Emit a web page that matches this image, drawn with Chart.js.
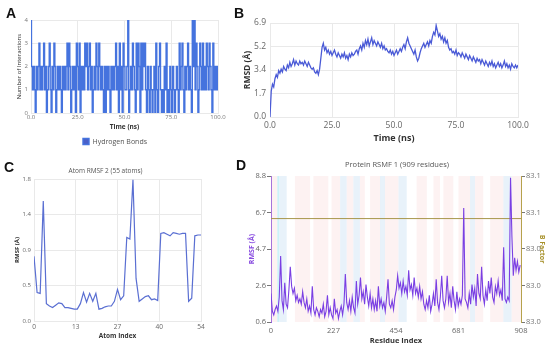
<!DOCTYPE html>
<html><head><meta charset="utf-8">
<script src="https://cdn.jsdelivr.net/npm/chart.js"></script>
<style>
html,body{margin:0;padding:0;background:#fff;}
#wrap{position:relative;width:550px;height:347px;overflow:hidden;background:#fff;}
canvas{position:absolute;}
.lbl{position:absolute;font-family:'Liberation Sans',Arial,sans-serif;font-weight:bold;font-size:14px;line-height:14px;color:#111;}
</style></head><body>
<div id="wrap">
<canvas id="cA" width="250" height="155" style="left:0;top:0"></canvas>
<canvas id="cB" width="320" height="147" style="left:230px;top:0"></canvas>
<canvas id="cC" width="218" height="178" style="left:0;top:163px"></canvas>
<canvas id="cD" width="306" height="190" style="left:244px;top:157px"></canvas>
<div class="lbl" style="left:6px;top:6px">A</div>
<div class="lbl" style="left:234px;top:6px">B</div>
<div class="lbl" style="left:4px;top:160px">C</div>
<div class="lbl" style="left:236px;top:158px">D</div>
</div>
<script>
// ---------- Panel A: hydrogen bonds (sampled every 0.5 ns) ----------
const A_TIME_STEP = 0.5;
const A_HBONDS = [
4,2,1,2,1,0,2,1,2,3, 1,2,1,2,3,1,2,0,1,2, 3,1,0,2,1,3,2,0,1,2, 1,2,1,0,2,1,2,1,2,3,
1,3,2,0,1,2,1,2,0,3, 2,1,3,0,2,1,2,1,3,2, 3,1,2,3,1,2,0,1,2,1, 3,2,1,3,2,1,2,1,0,2,
0,2,1,2,1,0,2,1,2,1, 2,3,1,2,0,3,1,2,0,3, 2,1,1,2,4,0,1,2,1,3, 2,1,0,3,1,3,2,0,3,1,
3,2,3,1,0,2,1,0,2,1, 0,1,2,0,3,1,0,2,3,1, 0,1,0,2,1,3,0,1,0,2, 1,0,2,1,0,1,2,1,0,3,
1,2,3,1,0,2,1,2,3,1, 2,1,0,4,2,4,1,3,2,0, 1,3,2,1,3,1,2,1,3,2, 1,3,2,1,0,3,1,2,1,2,
1];
const A_X_TICKS = [0,25,50,75,100];
const A_Y_TICKS = [0,1,2,3,4];

// ---------- Panel B: RMSD (sampled every 0.5 ns) ----------
const B_TIME_STEP = 0.5;
const B_RMSD = [
0.0,1.9,2.4,2.2,2.8,3.1,2.9,3.4,3.2,3.5, 3.3,3.7,3.5,3.4,3.8,3.6,4.0,3.7,3.9,4.2,
3.8,4.1,3.9,3.8,4.1,3.9,4.0,3.8,4.1,3.9, 3.7,4.0,3.8,3.6,3.5,3.6,3.3,3.2,3.4,3.1,
3.5,4.3,5.1,5.4,4.9,5.1,4.7,4.9,4.6,4.8, 4.5,4.7,4.9,4.6,4.4,4.7,4.5,4.3,4.6,4.4,
4.7,4.3,4.5,4.2,4.6,4.4,4.7,4.5,4.6,4.8, 4.9,4.6,5.0,5.2,4.9,5.4,5.1,5.6,5.3,5.7,
5.2,5.5,5.8,5.3,5.6,5.4,5.2,5.5,5.3,5.1, 5.4,5.0,5.2,4.9,5.0,4.8,4.7,4.9,4.6,4.8,
4.5,4.7,4.9,4.6,4.8,5.0,4.8,5.1,5.3,5.0, 5.5,5.8,5.4,5.2,5.0,4.8,4.6,4.9,4.4,4.1,
4.3,4.7,5.0,5.2,5.4,5.1,5.3,5.5,5.2,5.6, 5.4,5.9,6.2,6.0,6.7,6.3,5.9,6.1,5.7,5.9,
5.5,5.8,5.4,5.6,5.1,4.9,5.0,4.7,4.8,4.6, 4.9,4.5,4.7,4.6,4.4,4.7,4.5,4.3,4.6,4.4,
4.2,4.5,4.3,4.1,4.4,4.2,4.0,4.3,4.1,4.2, 3.9,4.2,4.0,3.8,4.1,3.9,3.7,4.0,3.8,4.1,
3.7,3.9,3.6,3.8,4.0,3.7,3.9,3.6,3.8,4.1, 3.7,3.9,3.6,3.8,3.5,3.9,3.7,3.6,3.8,3.6,
3.8];
const B_Y_TICKS = [0,1.72,3.44,5.16,6.88];
const B_Y_LABELS = ['0.0','1.7','3.4','5.2','6.9'];
const B_X_TICKS = [0,25,50,75,100];

// ---------- Panel C: atom RMSF (55 atoms) ----------
const C_RMSF = [0.82,0.36,0.35,1.52,0.22,0.19,0.17,0.20,0.23,0.22,
0.17,0.17,0.16,0.15,0.15,0.22,0.36,0.24,0.35,0.25,
0.35,0.15,0.16,0.18,0.19,0.19,0.25,0.40,0.27,0.32,
1.06,1.04,1.79,0.54,0.25,0.28,0.31,0.32,0.27,0.28,
0.26,1.11,1.12,1.10,1.08,1.12,1.11,1.10,1.11,1.11,
0.25,0.29,1.08,1.09,1.09];
const C_X_TICKS = [0,13.5,27,40.5,54];
const C_X_LABELS = ['0','13','27','40','54'];
const C_Y_TICKS = [0,0.45,0.9,1.35,1.8];
const C_Y_LABELS = ['0.0','0.5','0.9','1.4','1.8'];

// ---------- Panel D: protein RMSF (every 5th residue) ----------
const D_RES_STEP = 5;
const D_RMSF = [
2.2,1.2,1.0,1.3,1.5,1.2,2.0,4.3,1.8,1.3, 2.8,1.6,1.4,2.4,3.7,2.6,2.2,2.5,1.8,2.1,
1.7,1.9,1.6,2.3,1.7,1.4,1.9,1.2,1.5,1.1, 2.6,1.3,1.0,1.4,1.2,0.9,1.3,1.1,1.6,0.9,
1.2,2.1,1.0,1.4,1.0,0.8,1.9,1.1,1.3,0.8, 1.2,1.5,1.0,1.6,3.3,1.7,1.3,1.8,1.2,2.0,
1.4,1.1,2.9,1.6,2.1,3.1,1.9,2.3,1.6,2.7, 2.0,1.5,2.2,1.4,1.9,1.3,1.8,1.2,2.6,1.5,
1.9,1.4,1.7,1.2,2.0,3.0,1.6,1.4,1.8,1.3, 2.0,2.4,3.2,2.5,2.8,2.2,2.9,2.3,2.6,2.1,
3.5,2.4,2.7,2.1,3.1,2.2,2.5,2.0,2.6,1.9, 2.3,1.6,1.3,1.8,1.4,2.1,1.2,1.6,2.2,1.5,
3.0,1.7,1.3,2.0,3.2,1.8,1.4,1.9,3.2,1.7, 2.2,1.4,2.6,1.8,1.3,2.3,1.5,1.9,1.6,2.1,
7.0,1.9,1.7,1.4,2.2,1.6,2.7,2.0,2.5,1.5, 3.3,2.2,1.9,3.7,2.1,1.6,2.4,1.8,2.9,2.2,
3.1,2.0,1.7,2.6,2.2,2.9,2.1,2.4,1.8,4.8, 1.9,1.7,2.0,1.8,8.7,5.4,3.2,4.2,3.5,4.0,
3.4,3.8];
const D_BFACTOR = 83.065;
const D_X_TICKS = [0,227,454,681,908];
const D_Y_TICKS = [0.6,2.65,4.7,6.75,8.8];
const D_Y_LABELS = ['0.6','2.6','4.7','6.7','8.8'];
const D_Y1_TICKS = [82.98,83.01,83.04,83.07,83.10];
const D_Y1_LABELS = ['83.0','83.0','83.0','83.1','83.1'];
const D_BAND_START = [0,23,30,87,154,220,251,275,299,323,360,396,414,463,529,590,626,681,723,741,796,844,874];
const D_BAND_END   = [23,30,57,142,208,251,275,299,323,341,396,414,463,493,566,614,662,723,741,771,844,874,908];
const D_BAND_TYPE  = ['p','c','b','p','p','p','b','p','b','p','p','b','p','b','p','p','p','p','b','p','p','b','p'];
const BAND_COLORS = {p:'rgba(248,205,205,0.26)', b:'rgba(195,222,242,0.38)', c:'rgba(170,235,245,0.6)'};

Chart.defaults.font.family = "'Open Sans','Noto Sans',sans-serif";
Chart.defaults.animation = false;
const GRID = '#e9e9e9';
const fixed = (vals) => (s) => { s.ticks = vals.map(v => ({value: v})); };

// Panel A
new Chart(document.getElementById('cA'), {
  type: 'line',
  data: {datasets: [{label: 'Hydrogen Bonds', data: A_HBONDS.map((v,i)=>({x:i*A_TIME_STEP, y:v})),
    borderColor: '#4573de', backgroundColor: '#4a5fc8', borderWidth: 1.4, pointRadius: 0, tension: 0, stepped: 'middle'}]},
  options: {
    responsive: false,
    layout: {padding: {left: 12, right: 32, top: 20, bottom: 0}},
    plugins: {legend: {position: 'bottom', labels: {boxWidth: 6, boxHeight: 6, padding: 4, font: {size: 7}, color: '#555'}},
      tooltip: {enabled: false}},
    scales: {
      x: {type: 'linear', min: 0, max: 100, afterBuildTicks: fixed(A_X_TICKS),
        ticks: {callback: v => v.toFixed(1), font: {size: 6}, color: '#777', padding: 1, maxRotation: 0, autoSkip: false},
        grid: {color: GRID, drawTicks: false}, border: {color: GRID},
        title: {display: true, text: 'Time (ns)', font: {size: 6.5, weight: 'bold'}, color: '#333', padding: {top: 0, bottom: 3}},
        afterFit: s => { s.height = 21; }},
      y: {min: 0, max: 4, afterBuildTicks: fixed(A_Y_TICKS),
        ticks: {font: {size: 6}, color: '#777', padding: 3},
        grid: {color: GRID, drawTicks: false}, border: {color: GRID},
        title: {display: true, text: 'Number of Interactions', font: {size: 6}, color: '#333', padding: {top: 4, bottom: 0}},
        afterFit: s => { s.width = 19; }}
    }
  }
});

// Panel B
new Chart(document.getElementById('cB'), {
  type: 'line',
  data: {datasets: [{label: 'RMSD', data: B_RMSD.map((v,i)=>({x:i*B_TIME_STEP, y:v})),
    borderColor: '#4a5ad6', borderWidth: 1.3, pointRadius: 0, tension: 0}]},
  options: {
    responsive: false,
    layout: {padding: {left: 8, right: 32, top: 23, bottom: 0}},
    plugins: {legend: {display: false}, tooltip: {enabled: false}},
    scales: {
      x: {type: 'linear', min: 0, max: 100, afterBuildTicks: fixed(B_X_TICKS),
        ticks: {callback: v => v.toFixed(1), font: {size: 8.5}, color: '#666', padding: 3, maxRotation: 0, autoSkip: false},
        grid: {color: GRID, drawTicks: false}, border: {color: GRID},
        title: {display: true, text: 'Time (ns)', font: {size: 9, weight: 'bold'}, color: '#333', padding: {top: 0, bottom: 3}},
        afterFit: s => { s.height = 30; }},
      y: {min: 0, max: 6.88, afterBuildTicks: fixed(B_Y_TICKS),
        ticks: {callback: (v,i) => B_Y_LABELS[i], font: {size: 8.5}, color: '#666', padding: 4},
        grid: {color: GRID, drawTicks: false}, border: {color: GRID},
        title: {display: true, text: 'RMSD (Å)', font: {size: 8.5, weight: 'bold'}, color: '#333', padding: {top: 4, bottom: 0}},
        afterFit: s => { s.width = 32; }}
    }
  }
});

// Panel C
new Chart(document.getElementById('cC'), {
  type: 'line',
  data: {datasets: [{label: 'RMSF', data: C_RMSF.map((v,i)=>({x:i, y:v})),
    borderColor: '#5a6fd2', borderWidth: 1.2, pointRadius: 0, tension: 0}]},
  options: {
    responsive: false,
    layout: {padding: {left: 10, right: 17, top: 0, bottom: 0}},
    plugins: {legend: {display: false}, tooltip: {enabled: false},
      title: {display: true, text: 'Atom RMSF 2 (55 atoms)', font: {size: 6.5, weight: 'normal'}, color: '#555', padding: {top: 4, bottom: 4.2}}},
    scales: {
      x: {type: 'linear', min: 0, max: 54, afterBuildTicks: fixed(C_X_TICKS),
        ticks: {callback: (v,i) => C_X_LABELS[i], font: {size: 6.5}, color: '#666', padding: 2, maxRotation: 0, autoSkip: false},
        grid: {color: GRID, drawTicks: false}, border: {color: GRID},
        title: {display: true, text: 'Atom Index', font: {size: 6.5, weight: 'bold'}, color: '#333', padding: {top: 0, bottom: 1.4}},
        afterFit: s => { s.height = 20; }},
      y: {min: 0, max: 1.8, afterBuildTicks: fixed(C_Y_TICKS),
        ticks: {callback: (v,i) => C_Y_LABELS[i], font: {size: 6}, color: '#666', padding: 3},
        grid: {color: GRID, drawTicks: false}, border: {color: GRID},
        title: {display: true, text: 'RMSF (Å)', font: {size: 6, weight: 'bold'}, color: '#333', padding: {top: 4, bottom: 0}},
        afterFit: s => { s.width = 24; }}
    }
  }
});

// Panel D
const bandsPlugin = {
  id: 'bands',
  beforeDatasetsDraw(chart) {
    const {ctx, chartArea: a, scales: {x}} = chart;
    ctx.save();
    D_BAND_START.forEach((s, i) => {
      const x0 = x.getPixelForValue(s), x1 = x.getPixelForValue(D_BAND_END[i]);
      ctx.fillStyle = BAND_COLORS[D_BAND_TYPE[i]];
      ctx.fillRect(x0, a.top, x1 - x0, a.bottom - a.top);
    });
    ctx.restore();
  }
};
new Chart(document.getElementById('cD'), {
  type: 'line',
  data: {datasets: [
    {label: 'RMSF', data: D_RMSF.map((v,i)=>({x:i*D_RES_STEP, y:v})), yAxisID: 'y',
      borderColor: '#7a3fe3', borderWidth: 1.1, pointRadius: 0, tension: 0},
    {label: 'B Factor', data: [{x: 0, y: D_BFACTOR}, {x: 908, y: D_BFACTOR}], yAxisID: 'y1',
      borderColor: '#a8964a', borderWidth: 1, pointRadius: 0, tension: 0}
  ]},
  plugins: [bandsPlugin],
  options: {
    responsive: false,
    layout: {padding: {left: 0, right: 0, top: 0, bottom: 0}},
    plugins: {legend: {display: false}, tooltip: {enabled: false},
      title: {display: true, text: 'Protein RSMF 1 (909 residues)', font: {size: 7.5, weight: 'normal'}, color: '#555', padding: {top: 3.8, bottom: 6.2}}},
    scales: {
      x: {type: 'linear', min: 0, max: 908, afterBuildTicks: fixed(D_X_TICKS),
        ticks: {font: {size: 7.5}, color: '#666', padding: 4, maxRotation: 0, autoSkip: false},
        grid: {display: true, drawOnChartArea: false, drawTicks: false}, border: {display: false},
        title: {display: true, text: 'Residue Index', font: {size: 7.5, weight: 'bold'}, color: '#333', padding: {top: 0, bottom: 1.5}},
        afterFit: s => { s.height = 25; }},
      y: {position: 'left', min: 0.6, max: 8.8, afterBuildTicks: fixed(D_Y_TICKS),
        ticks: {callback: (v,i) => D_Y_LABELS[i], font: {size: 7.5}, color: '#666', padding: 1},
        grid: {drawOnChartArea: false, drawTicks: true, tickLength: 4, color: '#777'}, border: {color: '#8a55e0', width: 1},
        title: {display: true, text: 'RMSF (Å)', font: {size: 7, weight: 'bold'}, color: '#8a4fe0', padding: {top: 4, bottom: 0}},
        afterFit: s => { s.width = 27; }},
      y1: {position: 'right', min: 82.98, max: 83.10, afterBuildTicks: fixed(D_Y1_TICKS),
        ticks: {callback: (v,i) => D_Y1_LABELS[i], font: {size: 7.5}, color: '#777', padding: 1},
        grid: {drawOnChartArea: false, drawTicks: true, tickLength: 4, color: '#777'}, border: {color: '#b5a24c', width: 1},
        title: {display: true, text: 'B Factor', font: {size: 7, weight: 'bold'}, color: '#a8922c', padding: {top: 4, bottom: 0}},
        afterFit: s => { s.width = 29; }}
    }
  }
});
</script>
</body></html>
